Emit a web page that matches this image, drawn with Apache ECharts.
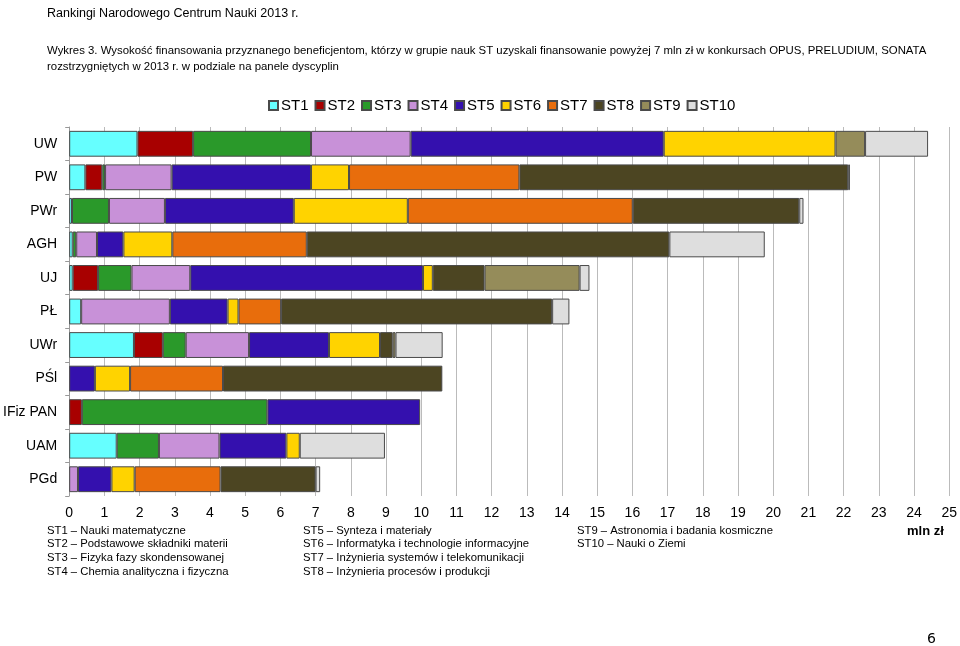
<!DOCTYPE html>
<html><head><meta charset="utf-8">
<script src="https://cdn.jsdelivr.net/npm/echarts@6/dist/echarts.min.js"></script>
<style>html,body{margin:0;padding:0;background:#fff}#c{width:960px;height:646px}</style>
</head><body><div id="c"></div>
<script>
const categories = ['UW','PW','PWr','AGH','UJ','PŁ','UWr','PŚl','IFiz PAN','UAM','PGd'];
const seriesNames = ['ST1','ST2','ST3','ST4','ST5','ST6','ST7','ST8','ST9','ST10'];
const ST1  = [1.94, 0.46, 0.08, 0.10, 0.10, 0.34, 1.84, 0,    0,    1.35, 0];
const ST2  = [1.58, 0.48, 0,    0,    0.72, 0,    0.82, 0,    0.36, 0,    0];
const ST3  = [3.35, 0.08, 1.05, 0.10, 0.95, 0,    0.65, 0,    5.27, 1.20, 0];
const ST4  = [2.83, 1.89, 1.59, 0.59, 1.67, 2.52, 1.80, 0,    0,    1.72, 0.25];
const ST5  = [7.19, 3.96, 3.66, 0.75, 6.61, 1.64, 2.27, 0.73, 4.34, 1.90, 0.95];
const ST6  = [4.88, 1.08, 3.24, 1.39, 0.28, 0.31, 1.45, 1.00, 0,    0.38, 0.66];
const ST7  = [0,    4.84, 6.39, 3.82, 0,    1.21, 0,    2.64, 0,    0,    2.44];
const ST8  = [0,    9.34, 4.73, 10.30,1.47, 7.70, 0.36, 6.23, 0,    0,    2.70];
const ST9  = [0.84, 0,    0,    0,    2.70, 0,    0.08, 0,    0,    0,    0];
const ST10 = [1.79, 0.05, 0.12, 2.71, 0.28, 0.49, 1.34, 0,    0,    2.42, 0.13];
const xTicks = [0,1,2,3,4,5,6,7,8,9,10,11,12,13,14,15,16,17,18,19,20,21,22,23,24,25];
const footnotes = [
  ['ST1 – Nauki matematyczne','ST2 – Podstawowe składniki materii','ST3 – Fizyka fazy skondensowanej','ST4 – Chemia analityczna i fizyczna'],
  ['ST5 – Synteza i materiały','ST6 – Informatyka i technologie informacyjne','ST7 – Inżynieria systemów i telekomunikacji','ST8 – Inżynieria procesów i produkcji'],
  ['ST9 – Astronomia i badania kosmiczne','ST10 – Nauki o Ziemi']
];
const allValues = [ST1,ST2,ST3,ST4,ST5,ST6,ST7,ST8,ST9,ST10];
const colors = ['#66FFFF','#A80000','#2A992A','#C891D8','#3410AE','#FFD300','#E86D0C','#4C4522','#958C5A','#DEDEDE'];
const FONT = '"Liberation Sans", Arial, sans-serif';

const chart = echarts.init(document.getElementById('c'), null, {renderer:'canvas'});
const series = seriesNames.map((n,i)=>({
  name:n, type:'bar', stack:'a', barCategoryGap:'23%',
  data: allValues[i].map(v => v === 0 ? null : v),
  itemStyle:{color:colors[i], borderColor:'#4a4a4a', borderWidth:1},
  emphasis:{disabled:true}
}));
const graphics = [
  {type:'text', left:47, top:7, style:{text:'Rankingi Narodowego Centrum Nauki 2013 r.', font:'12.5px '+FONT, fill:'#000'}},
  {type:'text', left:47, top:43, style:{text:'Wykres 3. Wysokość finansowania przyznanego beneficjentom, którzy w grupie nauk ST uzyskali finansowanie powyżej 7 mln zł w konkursach OPUS, PRELUDIUM, SONATA\nrozstrzygniętych w 2013 r. w podziale na panele dyscyplin', font:'11.4px '+FONT, fill:'#000', lineHeight:16}},
  {type:'text', left:907, top:525, style:{text:'mln zł', font:'bold 13px '+FONT, fill:'#000'}},
  {type:'text', left:927, top:632, style:{text:'6', font:'14px "DejaVu Sans", sans-serif', fill:'#000'}}
];
const colX = [47, 303, 577];
footnotes.forEach((col,ci)=>col.forEach((t,ri)=>{
  graphics.push({type:'text', left:colX[ci], top:525+ri*13.7, style:{text:t, font:'11.3px '+FONT, fill:'#000'}});
}));
chart.setOption({
  animation:false,
  textStyle:{fontFamily:FONT},
  legend:{
    data:seriesNames, top:93, left:263, icon:'rect', itemWidth:9, itemHeight:9, itemGap:6,
    textStyle:{fontSize:15, color:'#000', fontFamily:FONT, padding:[0,0,0,-2]}
  },
  grid:{left:67, right:10, top:127, bottom:150, containLabel:false},
  xAxis:{
    type:'value', min:0, max:25, interval:1,
    axisLine:{show:false}, axisTick:{show:false},
    splitLine:{show:true, lineStyle:{color:'#BBBBBB', width:1}},
    axisLabel:{fontSize:14, color:'#000', margin:10, fontFamily:FONT,
      formatter:v=>xTicks.includes(v)?String(v):''}
  },
  yAxis:{
    type:'category', data:categories, inverse:true,
    axisLine:{show:true, lineStyle:{color:'#999'}},
    axisTick:{show:true, length:4, lineStyle:{color:'#999'}},
    axisLabel:{fontSize:14, color:'#000', margin:12, fontFamily:FONT}
  },
  series:series,
  graphic:graphics
});
</script></body></html>
